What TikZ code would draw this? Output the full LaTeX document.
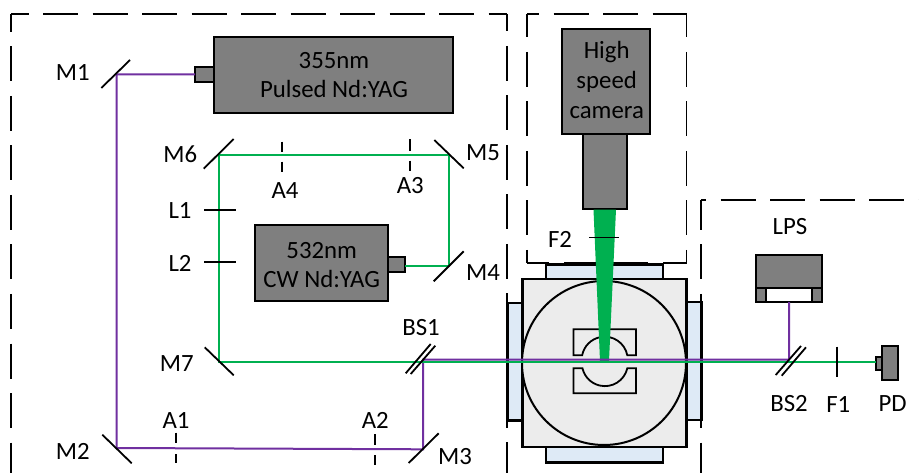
\documentclass[tikz,border=0pt]{standalone}
\usepackage{fontspec}
\setmainfont{Carlito}
\definecolor{beamP}{HTML}{7030A0}
\definecolor{beamG}{HTML}{00B050}
\definecolor{devgray}{HTML}{7F7F7F}
\definecolor{winblue}{HTML}{DEEAF6}
\definecolor{chamber}{HTML}{ECECEC}
\newcommand{\bx}[6]{% style, name, x1,y1,x2,y2
  \pgfmathsetmacro{\bw}{#5-#3}\pgfmathsetmacro{\bh}{#6-#4}
  \node[#1,minimum width=\bw pt,minimum height=\bh pt,anchor=north west] (#2) at (#3,#4) {};}
\newcommand{\lab}[4]{\node[lbl] (#1) at (#2,#3) {#4};}
\tikzset{
  x=1pt,y=-1pt,
  lbl/.style={anchor=base,inner sep=0pt,font=\fontsize{24.8}{26}\selectfont,text=black},
  device/.style={draw=black,fill=devgray,line width=1.8pt,inner sep=0pt,outer sep=0pt},
  optic/.style={draw=black,line width=1.8pt},
  thinoptic/.style={draw=black,line width=1.7pt},
  frame/.style={draw=black,line width=1.8pt,dash pattern=on 35pt off 14.5pt},
  purple beam/.style={draw=beamP,line width=2pt},
  green beam/.style={draw=beamG,line width=2pt},
  windowpane/.style={draw=black,fill=winblue,line width=2.5pt,inner sep=0pt,outer sep=0pt},
  vessel/.style={draw=black,fill=chamber,line width=2.5pt,inner sep=0pt,outer sep=0pt},
  slot/.style={draw=black,fill=chamber,line width=1.8pt,line join=miter},
}
\begin{document}
\begin{tikzpicture}
\path[use as bounding box,fill=white] (0,0) rectangle (919,473);

% dashed enclosures
\draw[frame,dash phase=17pt] (11,14) -- (11,473);
\draw[frame,dash phase=17.5pt] (11,14) -- (507,14);
\draw[frame,dash phase=17.5pt] (507,14) -- (507,473);
\draw[frame,dash phase=11.5pt] (527,14) -- (527,263);
\draw[frame,dash phase=23pt] (527,14) -- (687,14);
\draw[frame,dash phase=11.5pt] (686.5,14) -- (686.5,263);
\draw[frame,dash phase=11pt] (686.5,263) -- (527,263);
\draw[frame,dash phase=5pt] (701,200) -- (701,473);
\draw[frame,dash phase=30pt] (701,200) -- (919,200);

% chamber
\bx{windowpane}{winT}{546}{264.5}{663}{279}
\bx{windowpane}{winB}{546}{447}{663}{462.5}
\bx{windowpane}{winL}{507.5}{303}{522.7}{420.5}
\bx{windowpane}{winR}{686.7}{302}{701.5}{420}
\bx{vessel}{vessel}{522.7}{279}{686.7}{447}
\node[draw=black,fill=chamber,circle,line width=2pt,minimum size=164pt,inner sep=0pt,outer sep=0pt] (cell) at (604,363) {};
\draw[slot] (573.5,355.3) -- (573.5,329.3) -- (636,329.3) -- (636,355.3) -- (627.3,355.3) arc[start angle=-11,end angle=-169,radius=23] -- cycle;
\draw[slot] (573.5,368.3) -- (573.5,393.3) -- (636,393.3) -- (636,368.3) -- (627.3,368.3) arc[start angle=13,end angle=167,radius=23] -- cycle;

% camera
\bx{device}{lens}{583.3}{134}{626.7}{208.7}
\bx{device}{camera}{562}{29}{650}{134}
\coordinate (coneL) at (593.5,209.7);
\coordinate (coneR) at (616,209.7);
\coordinate (focusR) at (609,361);
\coordinate (focusL) at (600,361);
\fill[beamG] (coneL) -- (coneR) -- (focusR) -- (focusL) -- cycle;
\draw[thinoptic] (589,237.5) -- (619.3,237.5);

% lasers and detectors
\bx{device}{yagP}{214.3}{36.7}{452.7}{112.7}
\bx{device}{stubP}{195}{67}{214.3}{81.7}
\bx{device}{yagG}{255}{225}{387.7}{301.3}
\bx{device}{stubG}{387.7}{256.7}{405}{272}
\bx{device}{lpsTop}{756}{255}{821.7}{288.3}
\bx{device}{lpsL}{756}{288.3}{766}{302}
\bx{device}{lpsR}{812.3}{288.3}{821.7}{302}
\node[draw=black,fill=white,line width=1.8pt,inner sep=0pt,outer sep=0pt,minimum width=46.3pt,minimum height=13.7pt,anchor=north west] (lpsGap) at (766,288.3) {};
\bx{device}{pd}{882.3}{346}{897.7}{380}
\bx{device}{pdStub}{876.3}{356.7}{882.3}{369.7}

% beam path points
\coordinate (m1) at (116.5,74.5);
\coordinate (m2) at (116.5,448);
\coordinate (m3) at (423,449.3);
\coordinate (bs1p) at (423,359.5);
\coordinate (bs2p) at (789,359.5);
\coordinate (m4) at (449,265.7);
\coordinate (m5) at (449,155.5);
\coordinate (m6) at (219,155.5);
\coordinate (m7) at (219,361.5);
\coordinate (bs2g) at (789,361.5);

% beams
\draw[purple beam] (stubP.west) -- (m1) -- (m2) -- (m3) -- (bs1p) -- (bs2p);
\draw[purple beam] (lpsGap.south) -- (bs2p);
\draw[green beam] (stubG.east |- m4) -- (m4) -- (m5) -- (m6) -- (m7) -- (bs2g) -- (pdStub.west |- bs2g);

% mirrors, beam splitters, lenses, apertures, filters
\draw[optic] (101.3,88) -- (130,60);
\draw[optic] (102.3,434.7) -- (131.7,463.3);
\draw[optic] (408.7,463) -- (438.7,433.3);
\draw[optic] (433.7,281.3) -- (463.7,251.3);
\draw[optic] (434.3,140) -- (463.7,168.3);
\draw[optic] (203.7,168.7) -- (233.7,139);
\draw[optic] (204.7,347.3) -- (233.7,375.3);
\draw[optic] (405.7,373.3) -- (430.7,344);
\draw[optic] (410.7,374) -- (435.3,345.7);
\draw[optic] (775.7,375) -- (801,346);
\draw[optic] (781.7,375.7) -- (806,347.3);
\draw[thinoptic] (204,210) -- (235.7,210);
\draw[thinoptic] (204,261.7) -- (235.7,261.7);
\draw[thinoptic] (837.3,346.7) -- (837.3,377);
\draw[thinoptic] (281.7,141.7) -- (281.7,151.7) (281.7,161.7) -- (281.7,172.3);
\draw[thinoptic] (410.3,139.3) -- (410.3,150.7) (410.3,160.7) -- (410.3,171);
\draw[thinoptic] (176.3,432.7) -- (176.3,443.3) (176.3,454) -- (176.3,463.3);
\draw[thinoptic] (375.3,434.3) -- (375.3,445) (375.3,455) -- (375.3,465.3);

% labels
\lab{tM1}{72.8}{81}{M1}
\lab{tM2}{72.7}{459}{M2}
\lab{tM3}{455}{464.5}{M3}
\lab{tM4}{483}{281}{M4}
\lab{tM5}{483}{161}{M5}
\lab{tM6}{180.3}{162.5}{M6}
\lab{tM7}{176.7}{371}{M7}
\lab{tL1}{180}{219}{L1}
\lab{tL2}{180}{271.5}{L2}
\lab{tA1}{176}{428}{A1}
\lab{tA2}{375.3}{428}{A2}
\lab{tA3}{410.3}{194}{A3}
\lab{tA4}{285}{199}{A4}
\lab{tBS1}{421}{335}{BS1}
\lab{tBS2}{789}{411}{BS2}
\lab{tF1}{838.3}{412}{F1}
\lab{tF2}{560}{248}{F2}
\lab{tLPS}{790}{235}{LPS}
\lab{tPD}{892.7}{411}{PD}
\lab{tP1}{334}{68.3}{355nm}
\lab{tP2}{334}{97.7}{Pulsed Nd:YAG}
\lab{tG1}{321.7}{258.3}{532nm}
\lab{tG2}{321.7}{287.7}{CW Nd:YAG}
\lab{tC1}{606.7}{59}{High}
\lab{tC2}{606.7}{89}{speed}
\lab{tC3}{606.7}{119}{camera}
\end{tikzpicture}
\end{document}
